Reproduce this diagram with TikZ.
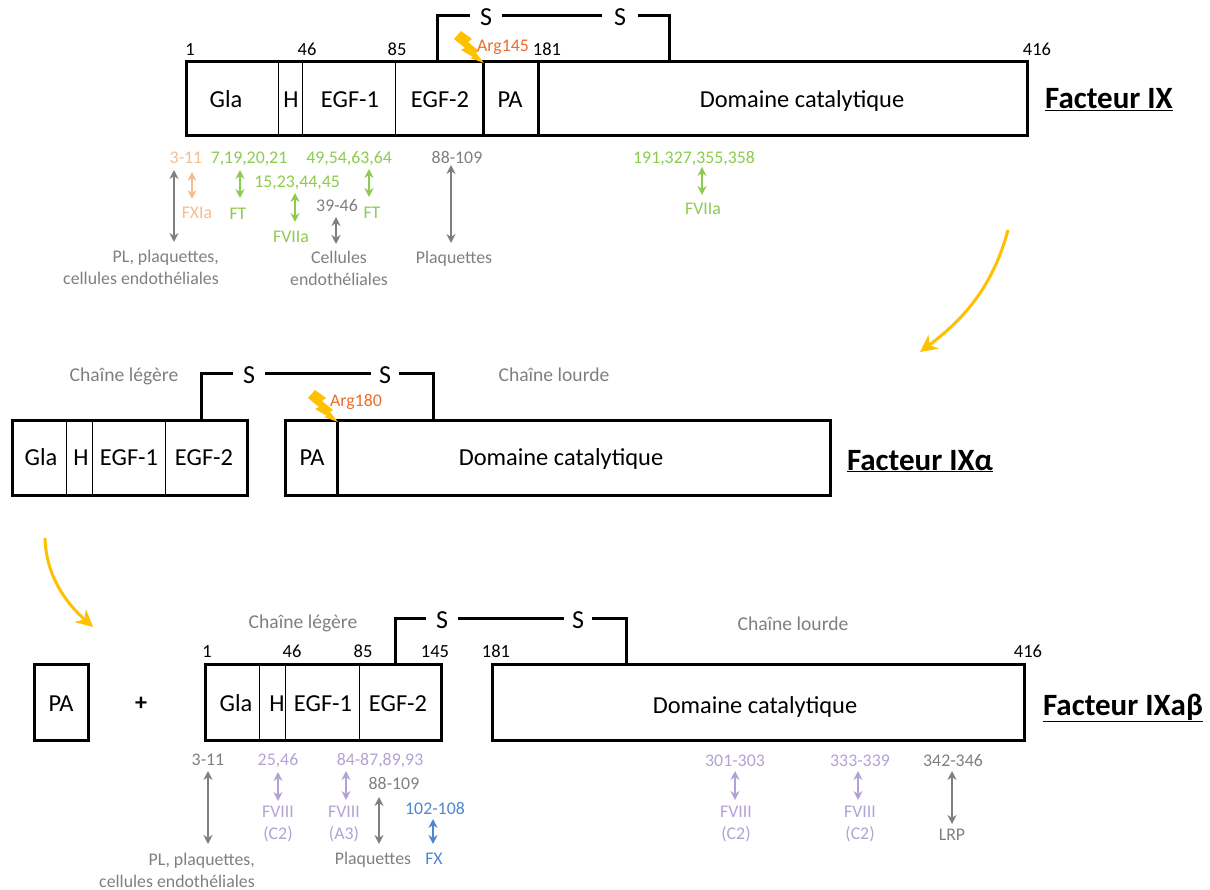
\documentclass[tikz,border=0pt]{standalone}
\usepackage{fontspec}
\setmainfont{Carlito}
\usetikzlibrary{arrows.meta}
\definecolor{cgray}{HTML}{7F7F7F}
\definecolor{cgreen}{HTML}{8CCB4E}
\definecolor{corange}{HTML}{F6BD8E}
\definecolor{cpurple}{HTML}{B3A2D3}
\definecolor{cblue}{HTML}{4F86CC}
\definecolor{carg}{HTML}{ED6C2B}
\definecolor{cbolt}{HTML}{FFC000}
\tikzset{
 dom/.style={inner sep=0pt,font=\fontsize{24.4}{26}\selectfont,text height=17pt,text depth=0pt,anchor=center},
 num/.style={inner sep=0pt,font=\fontsize{18.5}{20}\selectfont,text height=11pt,text depth=0pt,anchor=center},
 lab/.style={inner sep=0pt,font=\fontsize{17.8}{20}\selectfont,text height=14pt,text depth=1pt,anchor=center},
 multi/.style={inner sep=0pt,font=\fontsize{17.8}{22}\selectfont,anchor=center},
 chain/.style={inner sep=0pt,font=\fontsize{19.6}{20}\selectfont,text=cgray,text height=15pt,text depth=1pt,anchor=center},
 title/.style={inner sep=0pt,font=\fontsize{31}{34}\selectfont\bfseries,text height=21pt,text depth=1pt,anchor=center},
 sulf/.style={inner sep=0pt,minimum width=32pt,font=\fontsize{26}{28}\selectfont,text height=20pt,text depth=0pt,anchor=center},
 block/.style={draw,line width=3pt,inner sep=0pt,outer sep=0pt,anchor=north west,line join=miter},
 thin/.style={line width=1pt},
 thick3/.style={line width=3pt},
 bond/.style={line width=3pt},
 link/.style={line width=2pt,{Stealth[length=9pt,width=9pt]}-{Stealth[length=9pt,width=9pt]}},
 cut/.style={line width=3pt,cbolt,-{Stealth[length=17pt,width=17pt]}},
}
\newcommand{\lbl}[5]{\node[lab,text=#4] (#1) at (#2,#3) {#5};}
\newcommand{\lnk}[5]{\coordinate (#1a) at (#3,#4); \coordinate (#1b) at (#3,#5); \draw[link,#2] (#1a) -- (#1b);}
\newcommand{\divd}[5]{\coordinate (#1a) at (#3,#4); \coordinate (#1b) at (#3,#5); \draw[#2] (#1a) -- (#1b);}
\newcommand{\blockbox}[5]{\node[block,minimum width=#4pt-#2pt,minimum height=#5pt-#3pt] (#1) at (#2,#3) {};}
\newcommand{\bolt}[2]{\fill[cbolt,shift={(#1,#2)}] (-22,-31) -- (-29,-23) -- (-18,-14) -- (-22,-12) -- (-10,-5) -- (-13,-4) -- (1,1) -- (-7,-9) -- (-4,-11) -- (-15,-20) -- (-11,-23) -- cycle;}
\begin{document}
\begin{tikzpicture}[x=1pt,y=-1pt]
\useasboundingbox (0,0) rectangle (1210,890);
% ---------- Facteur IX
\blockbox{ix}{186}{62}{1027}{136}
\divd{ixd1}{thin}{278}{62}{136}
\divd{ixd2}{thin}{302}{62}{136}
\divd{ixd3}{thin}{395}{62}{136}
\divd{ixd4}{thick3}{483}{62}{136}
\divd{ixd5}{thick3}{538}{62}{136}
\node[dom] (ixgla) at (226,99) {Gla};
\node[dom] (ixh) at (291,99) {H};
\node[dom] (ixe1) at (350,99) {EGF-1};
\node[dom] (ixe2) at (440,99) {EGF-2};
\node[dom] (ixpa) at (510,99) {PA};
\node[dom] (ixcat) at (802,99) {Domaine catalytique};
\node[num] (ixn1) at (190,50) {1};
\node[num] (ixn2) at (307,50) {46};
\node[num] (ixn3) at (397,50) {85};
\node[num] (ixn4) at (547,50) {181};
\node[num] (ixn5) at (1037,50) {416};
\node[sulf] (ixs1) at (486,16) {S};
\node[sulf,minimum width=36pt] (ixs2) at (620,16) {S};
\coordinate (ixb1) at (437,62);
\coordinate (ixb2) at (669,62);
\draw[bond] (ixb1) |- (ixs1.west);
\draw[bond] (ixs1.east) -- (ixs2.west);
\draw[bond] (ixs2.east) -| (ixb2);
\bolt{483}{62}
\lbl{ixarg}{503}{45}{carg}{Arg145}
\node[title] (ixtitle) at (1109,99) {\underline{Facteur IX}};
\lbl{ixt1}{186}{157}{corange}{3-11}
\lbl{ixt2}{249}{157}{cgreen}{7,19,20,21}
\lbl{ixt3}{349}{157}{cgreen}{49,54,63,64}
\lbl{ixt4}{457}{157}{cgray}{88-109}
\lbl{ixt5}{694}{157}{cgreen}{191,327,355,358}
\lbl{ixt6}{297}{181}{cgreen}{15,23,44,45}
\lbl{ixt7}{337}{205}{cgray}{39-46}
\lbl{ixt8}{197}{212}{corange}{FXIa}
\lbl{ixt9}{238}{213}{cgreen}{FT}
\lbl{ixt10}{372}{212}{cgreen}{FT}
\lbl{ixt11}{291}{236}{cgreen}{FVIIa}
\lbl{ixt12}{454}{257}{cgray}{Plaquettes}
\lbl{ixt13}{703}{208}{cgreen}{FVIIa}
\node[multi,text=cgray,align=right] (ixm1) at (141,267) {PL, plaquettes,\\cellules endothéliales};
\node[multi,text=cgray,align=center] (ixm2) at (339,268) {Cellules\\endothéliales};
\lnk{ixa1}{cgray}{174}{170}{242}
\lnk{ixa2}{corange}{192}{172}{199}
\lnk{ixa3}{cgreen}{240}{170}{198}
\lnk{ixa4}{cgreen}{295}{193}{222}
\lnk{ixa5}{cgray}{336}{217}{244}
\lnk{ixa6}{cgreen}{369}{169}{197}
\lnk{ixa7}{cgray}{451}{165}{243}
\lnk{ixa8}{cgreen}{702}{167}{195}
% ---------- arrows between forms
\coordinate (cut1a) at (1008,230);
\coordinate (cut1b) at (920,352);
\draw[cut] (cut1a) .. controls (992,290) and (960,322) .. (cut1b);
\coordinate (cut2a) at (45,538);
\coordinate (cut2b) at (93,627);
\draw[cut] (cut2a) .. controls (46,575) and (65,602) .. (cut2b);
% ---------- Facteur IXalpha
\blockbox{ia}{12}{420}{247}{495}
\divd{iad1}{thin}{66}{420}{495}
\divd{iad2}{thin}{92}{420}{495}
\divd{iad3}{thin}{165}{420}{495}
\node[dom] (iagla) at (41,457) {Gla};
\node[dom] (iah) at (81,457) {H};
\node[dom] (iae1) at (129,457) {EGF-1};
\node[dom] (iae2) at (204,457) {EGF-2};
\blockbox{ib}{285}{420}{830}{495}
\divd{iad4}{thick3}{337}{420}{495}
\node[dom] (iapa) at (312,457) {PA};
\node[dom] (iacat) at (561,457) {Domaine catalytique};
\node[sulf] (ias1) at (249,374) {S};
\node[sulf,minimum width=28pt] (ias2) at (385,374) {S};
\coordinate (iab1) at (201,420);
\coordinate (iab2) at (433,420);
\draw[bond] (iab1) |- (ias1.west);
\draw[bond] (ias1.east) -- (ias2.west);
\draw[bond] (ias2.east) -| (iab2);
\node[chain] (iac1) at (124,375) {Chaîne légère};
\node[chain] (iac2) at (554,375) {Chaîne lourde};
\bolt{337}{421}
\lbl{iaarg}{356}{400}{carg}{Arg180}
\node[title] (iatitle) at (920,460) {\underline{Facteur IXα}};
% ---------- Facteur IXabeta
\blockbox{ipa}{34}{664}{88}{740}
\node[dom] (ipat) at (61,703) {PA};
\node[inner sep=0pt,font=\fontsize{24}{26}\selectfont\bfseries] (iplus) at (141,704) {+};
\blockbox{il}{205}{664}{441}{740}
\divd{ild1}{thin}{259}{664}{740}
\divd{ild2}{thin}{285}{664}{740}
\divd{ild3}{thin}{359}{664}{740}
\node[dom] (ilgla) at (236,703) {Gla};
\node[dom] (ilh) at (277,703) {H};
\node[dom] (ile1) at (323,703) {EGF-1};
\node[dom] (ile2) at (398,703) {EGF-2};
\blockbox{ih}{492}{664}{1024}{740}
\node[dom] (ihcat) at (755,705) {Domaine catalytique};
\node[num] (iln1) at (207,652) {1};
\node[num] (iln2) at (292,652) {46};
\node[num] (iln3) at (363,652) {85};
\node[num] (iln4) at (435,652) {145};
\node[num] (iln5) at (496,652) {181};
\node[num] (iln6) at (1028,652) {416};
\node[sulf] (ils1) at (442,618) {S};
\node[sulf,minimum width=28pt] (ils2) at (578,618) {S};
\coordinate (ilb1) at (395,664);
\coordinate (ilb2) at (626,664);
\draw[bond] (ilb1) |- (ils1.west);
\draw[bond] (ils1.east) -- (ils2.west);
\draw[bond] (ils2.east) -| (ilb2);
\node[chain] (ilc1) at (303,621) {Chaîne légère};
\node[chain] (ilc2) at (793,623) {Chaîne lourde};
\node[title] (iltitle) at (1123,705) {\underline{Facteur IXaβ}};
\lbl{ilt1}{208}{759}{cgray}{3-11}
\lbl{ilt2}{278}{759}{cpurple}{25,46}
\lbl{ilt3}{380}{759}{cpurple}{84-87,89,93}
\lbl{ilt4}{394}{783}{cgray}{88-109}
\lbl{ilt5}{435}{808}{cblue}{102-108}
\lbl{ilt6}{735}{760}{cpurple}{301-303}
\lbl{ilt7}{860}{760}{cpurple}{333-339}
\lbl{ilt8}{953}{760}{cgray}{342-346}
\lbl{ilt9}{373}{858}{cgray}{Plaquettes}
\lbl{ilt10}{434}{858}{cblue}{FX}
\lbl{ilt11}{952}{834}{cgray}{LRP}
\node[multi,text=cpurple,align=center] (ilm1) at (278,824) {FVIII\\(C2)};
\node[multi,text=cpurple,align=center] (ilm2) at (344,824) {FVIII\\(A3)};
\node[multi,text=cpurple,align=center] (ilm3) at (736,824) {FVIII\\(C2)};
\node[multi,text=cpurple,align=center] (ilm4) at (860,824) {FVIII\\(C2)};
\node[multi,text=cgray,align=right] (ilm5) at (177,870) {PL, plaquettes,\\cellules endothéliales};
\lnk{ila1}{cgray}{208}{771}{844}
\lnk{ila2}{cpurple}{278}{772}{801}
\lnk{ila3}{cpurple}{346}{771}{800}
\lnk{ila4}{cgray}{379}{797}{844}
\lnk{ila5}{cblue}{433}{819}{844}
\lnk{ila6}{cpurple}{735}{771}{800}
\lnk{ila7}{cpurple}{858}{771}{800}
\lnk{ila8}{cgray}{952}{771}{824}
\end{tikzpicture}
\end{document}
